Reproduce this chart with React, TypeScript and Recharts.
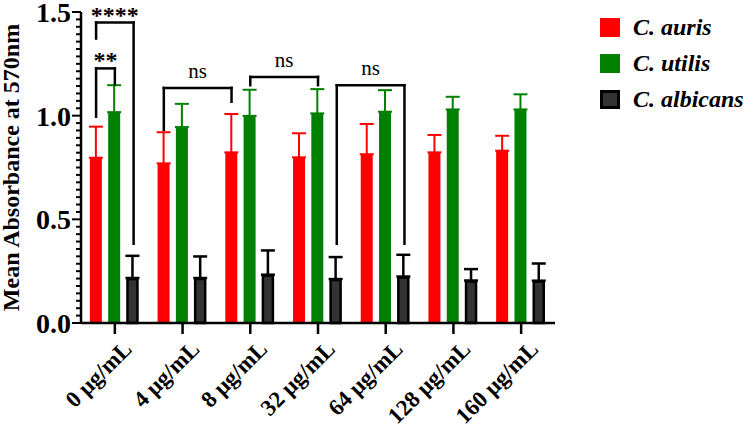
import {
  Bar,
  BarChart,
  ErrorBar,
  Legend,
  ReferenceLine,
  XAxis,
  YAxis,
} from "recharts";

const concentrations = [
  "0 μg/mL",
  "4 μg/mL",
  "8 μg/mL",
  "32 μg/mL",
  "64 μg/mL",
  "128 μg/mL",
  "160 μg/mL",
];

const aurisMean = [0.797, 0.77, 0.823, 0.799, 0.814, 0.823, 0.831];
const aurisSd = [0.15, 0.15, 0.185, 0.116, 0.146, 0.084, 0.072];

const utilisMean = [1.017, 0.945, 0.999, 1.011, 1.019, 1.03, 1.03];
const utilisSd = [0.13, 0.112, 0.126, 0.117, 0.104, 0.061, 0.073];

const albicansMean = [0.217, 0.217, 0.233, 0.212, 0.224, 0.205, 0.204];
const albicansSd = [0.107, 0.104, 0.117, 0.106, 0.105, 0.055, 0.083];

const yMajorTicks = [0, 0.5, 1.0, 1.5];
const MINOR_PER_MAJOR = 14;

const RED = "#ff0000";
const GREEN = "#008000";
const DARK = "#333333";
const SERIF = "'Liberation Serif', 'Times New Roman', serif";

// bar layout as fractions of one category band
const CAT_GAP = 0.131;
const BAR_GAP = 0.093;
const BAR_W = (1 - 2 * CAT_GAP - 2 * BAR_GAP) / 3;

const rows = concentrations.map((name, i) => ({
  name,
  pos: i + 0.5,
  auris: aurisMean[i],
  aurisErr: [0, aurisSd[i]],
  utilis: utilisMean[i],
  utilisErr: [0, utilisSd[i]],
  albicans: albicansMean[i],
  albicansErr: [0, albicansSd[i]],
}));

const yTicks: number[] = [];
for (let k = 0; k <= (yMajorTicks.length - 1) * MINOR_PER_MAJOR; k++) {
  yTicks.push((k * 0.5) / MINOR_PER_MAJOR);
}

// centre of a bar on the hidden 0..7 position axis
const barX = (group: number, series: number) =>
  group + 0.5 + (series - 1) * (BAR_W + BAR_GAP);

type Bracket = {
  text: string;
  a: [number, number];
  b: [number, number];
  top: number;
  endA: number;
  endB: number;
};

const brackets: Bracket[] = [
  { text: "**", a: [0, 0], b: [0, 1], top: 1.228, endA: 0.995, endB: 1.152 },
  { text: "****", a: [0, 0], b: [0, 2], top: 1.449, endA: 1.372, endB: 0.382 },
  { text: "ns", a: [1, 0], b: [2, 0], top: 1.134, endA: 0.931, endB: 1.067 },
  { text: "ns", a: [2, 1], b: [3, 1], top: 1.187, endA: 1.147, endB: 1.147 },
  { text: "ns", a: [3, 2], b: [4, 2], top: 1.147, endA: 0.382, endB: 0.382 },
];

const legendItems = [
  { name: "C. auris", fill: RED, border: "none" },
  { name: "C. utilis", fill: GREEN, border: "none" },
  { name: "C. albicans", fill: DARK, border: "3px solid #000" },
];

function YTick({ x, y, payload }: any) {
  const v = payload.value as number;
  const major = Math.abs(v * 2 - Math.round(v * 2)) < 1e-6;
  return (
    <g>
      <line
        x1={x - (major ? 9 : 5)}
        x2={x}
        y1={y}
        y2={y}
        stroke="#000"
        strokeWidth={2}
      />
      {major && (
        <text
          x={x - 10}
          y={y}
          dy="0.36em"
          textAnchor="end"
          fontFamily={SERIF}
          fontWeight="bold"
          fontSize={28}
          fill="#000"
        >
          {v.toFixed(1)}
        </text>
      )}
    </g>
  );
}

function XTick({ x, y, payload }: any) {
  const ax = x + 7;
  const ay = y + 5;
  return (
    <text
      x={ax}
      y={ay}
      dy="0.7em"
      transform={`rotate(-45, ${ax}, ${ay})`}
      textAnchor="end"
      fontFamily={SERIF}
      fontWeight="bold"
      fontSize={23}
      fill="#000"
    >
      {payload.value}
    </text>
  );
}

function DarkBar({ x, y, width, height }: any) {
  if (!height) return null;
  return (
    <rect
      x={x + 1}
      y={y + 1}
      width={width - 2}
      height={height - 1}
      fill={DARK}
      stroke="#000"
      strokeWidth={2.5}
    />
  );
}

function YLabel({ viewBox }: any) {
  const cy = viewBox.y + viewBox.height / 2;
  return (
    <text
      x={19}
      y={cy}
      transform={`rotate(-90, 19, ${cy})`}
      textAnchor="middle"
      fontFamily={SERIF}
      fontWeight="bold"
      fontSize={24}
      fill="#000"
    >
      Mean Absorbance at 570nm
    </text>
  );
}

function LegendBox() {
  return (
    <div style={{ fontFamily: SERIF }}>
      {legendItems.map((item) => (
        <div
          key={item.name}
          style={{ display: "flex", alignItems: "center", height: 36 }}
        >
          <span
            style={{
              display: "inline-block",
              width: 20,
              height: 19,
              boxSizing: "border-box",
              background: item.fill,
              border: item.border,
            }}
          />
          <span
            style={{
              marginLeft: 13,
              fontSize: 24,
              fontWeight: "bold",
              fontStyle: "italic",
              color: "#000",
            }}
          >
            {item.name}
          </span>
        </div>
      ))}
    </div>
  );
}

function bracketLines(br: Bracket, i: number) {
  const xa = barX(br.a[0], br.a[1]);
  const xb = barX(br.b[0], br.b[1]);
  const star = br.text.startsWith("*");
  const common = {
    xAxisId: "pos",
    stroke: "#000",
    strokeWidth: 2.5,
    strokeLinecap: "square" as const,
    ifOverflow: "visible" as const,
  };
  return [
    <ReferenceLine
      key={`l${i}`}
      {...common}
      segment={[
        { x: xa, y: br.endA },
        { x: xa, y: br.top },
      ]}
    />,
    <ReferenceLine
      key={`r${i}`}
      {...common}
      segment={[
        { x: xb, y: br.endB },
        { x: xb, y: br.top },
      ]}
    />,
    <ReferenceLine
      key={`t${i}`}
      {...common}
      segment={[
        { x: xa, y: br.top },
        { x: xb, y: br.top },
      ]}
      label={{
        value: br.text,
        position: "top",
        offset: star ? 0 : 10,
        fill: "#000",
        fontFamily: SERIF,
        fontWeight: star ? "bold" : "normal",
        fontSize: star ? 24 : 21,
      }}
    />,
  ];
}

export default function App() {
  return (
    <div style={{ position: "absolute", left: 0, top: 0, fontFamily: SERIF }}>
      <BarChart
        width={749}
        height={426}
        data={rows}
        margin={{ top: 12, right: 45, bottom: 0, left: 0 }}
        barCategoryGap={`${CAT_GAP * 100}%`}
        barGap={`${BAR_GAP * 100}%`}
      >
        <XAxis
          dataKey="name"
          height={103}
          interval={0}
          tickSize={11}
          tickMargin={0}
          tickLine={{ stroke: "#000", strokeWidth: 2.5 }}
          axisLine={{ stroke: "#000", strokeWidth: 2.5 }}
          tick={<XTick />}
        />
        <XAxis
          xAxisId="pos"
          dataKey="pos"
          type="number"
          domain={[0, 7]}
          allowDataOverflow
          hide
        />
        <YAxis
          width={81}
          domain={[0, 1.5]}
          ticks={yTicks}
          interval={0}
          tickSize={0}
          tickMargin={0}
          tickLine={false}
          axisLine={{ stroke: "#000", strokeWidth: 2.5 }}
          tick={<YTick />}
          label={YLabel}
        />
        <Legend
          layout="vertical"
          align="right"
          verticalAlign="top"
          wrapperStyle={{ left: 600, top: 9, width: 149 }}
          content={<LegendBox />}
        />
        <Bar dataKey="auris" name="C. auris" fill={RED} isAnimationActive={false}>
          <ErrorBar dataKey="aurisErr" direction="y" width={7} stroke={RED} strokeWidth={2} />
        </Bar>
        <Bar dataKey="utilis" name="C. utilis" fill={GREEN} isAnimationActive={false}>
          <ErrorBar dataKey="utilisErr" direction="y" width={7} stroke={GREEN} strokeWidth={2} />
        </Bar>
        <Bar
          dataKey="albicans"
          name="C. albicans"
          fill={DARK}
          shape={<DarkBar />}
          isAnimationActive={false}
        >
          <ErrorBar dataKey="albicansErr" direction="y" width={7} stroke="#000" strokeWidth={2.5} />
        </Bar>
        {brackets.flatMap(bracketLines)}
      </BarChart>
    </div>
  );
}
